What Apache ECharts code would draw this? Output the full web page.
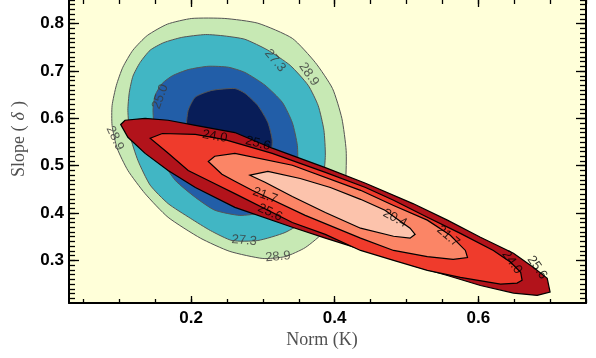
<!DOCTYPE html>
<html><head><meta charset="utf-8">
<script src="https://cdn.jsdelivr.net/npm/echarts@6/dist/echarts.min.js"></script>
<style>html,body{margin:0;padding:0;background:#fff}#c{width:596px;height:358px}</style>
</head><body><div id="c"></div>
<script>
// ---- tick labels ----
const xTickLabels = [0.2, 0.4, 0.6];
const yTickLabels = [0.3, 0.4, 0.5, 0.6, 0.7, 0.8];

// ---- contour polygons (Norm K, Slope delta) ----
// first model (blue): levels 28.9 > 27.3 > 25.0 > core
const blueLevel289 = [[0.090,0.585],[0.090,0.627],[0.096,0.670],[0.105,0.708],[0.119,0.744],[0.139,0.775],[0.167,0.799],[0.201,0.811],[0.247,0.811],[0.293,0.801],[0.341,0.769],[0.373,0.718],[0.397,0.663],[0.410,0.600],[0.416,0.532],[0.415,0.469],[0.405,0.412],[0.387,0.363],[0.359,0.327],[0.331,0.308],[0.300,0.304],[0.254,0.319],[0.213,0.347],[0.168,0.391],[0.136,0.441],[0.112,0.490],[0.097,0.537]];
const blueLevel273 = [[0.112,0.617],[0.114,0.655],[0.119,0.689],[0.129,0.718],[0.143,0.744],[0.162,0.760],[0.187,0.771],[0.220,0.777],[0.247,0.774],[0.275,0.767],[0.307,0.744],[0.338,0.712],[0.363,0.670],[0.377,0.627],[0.385,0.575],[0.387,0.522],[0.384,0.469],[0.377,0.423],[0.359,0.385],[0.331,0.359],[0.293,0.342],[0.257,0.342],[0.227,0.363],[0.199,0.389],[0.168,0.420],[0.143,0.459],[0.126,0.511],[0.115,0.564]];
const blueLevel250 = [[0.147,0.617],[0.150,0.649],[0.160,0.674],[0.174,0.690],[0.196,0.703],[0.224,0.710],[0.252,0.708],[0.275,0.697],[0.303,0.670],[0.327,0.634],[0.341,0.591],[0.348,0.543],[0.348,0.501],[0.338,0.459],[0.321,0.420],[0.299,0.401],[0.268,0.395],[0.233,0.406],[0.206,0.433],[0.178,0.469],[0.160,0.511],[0.150,0.564]];
const blueCore = [[0.193,0.575],[0.196,0.617],[0.206,0.645],[0.229,0.659],[0.261,0.663],[0.275,0.653],[0.293,0.627],[0.307,0.591],[0.313,0.553],[0.310,0.511],[0.296,0.480],[0.268,0.469],[0.233,0.473],[0.210,0.501],[0.196,0.537]];
// second model (red): levels 25.6 > 24.0 > 21.7 > 20.4
const redLevel256 = [[0.102,0.587],[0.108,0.596],[0.136,0.600],[0.168,0.596],[0.206,0.585],[0.261,0.570],[0.313,0.537],[0.387,0.496],[0.443,0.463],[0.509,0.420],[0.557,0.385],[0.603,0.349],[0.649,0.315],[0.677,0.285],[0.696,0.262],[0.700,0.233],[0.682,0.226],[0.649,0.231],[0.603,0.247],[0.557,0.268],[0.509,0.289],[0.463,0.315],[0.429,0.327],[0.387,0.347],[0.341,0.370],[0.261,0.412],[0.206,0.454],[0.168,0.490],[0.136,0.526],[0.112,0.560]];
const redLevel240 = [[0.143,0.558],[0.160,0.568],[0.206,0.566],[0.247,0.555],[0.313,0.526],[0.387,0.486],[0.443,0.454],[0.482,0.427],[0.529,0.391],[0.575,0.357],[0.621,0.321],[0.645,0.296],[0.659,0.275],[0.661,0.258],[0.654,0.252],[0.631,0.250],[0.575,0.264],[0.529,0.279],[0.482,0.300],[0.436,0.321],[0.387,0.355],[0.341,0.380],[0.261,0.441],[0.229,0.465],[0.196,0.490],[0.167,0.528]];
const redLevel217 = [[0.224,0.509],[0.233,0.520],[0.261,0.526],[0.341,0.501],[0.436,0.448],[0.482,0.416],[0.529,0.385],[0.561,0.353],[0.582,0.321],[0.585,0.306],[0.565,0.302],[0.529,0.308],[0.482,0.321],[0.436,0.347],[0.359,0.395],[0.285,0.448],[0.261,0.467],[0.243,0.482]];
const redLevel204 = [[0.282,0.480],[0.307,0.488],[0.352,0.473],[0.394,0.454],[0.436,0.429],[0.470,0.406],[0.505,0.368],[0.512,0.355],[0.505,0.347],[0.482,0.351],[0.436,0.368],[0.387,0.401],[0.341,0.435],[0.303,0.465]];

// ---- contour labels: [x, y, text, family] ----
const contourLabels = [
  [0.094,0.558,'28.9','b'],[0.157,0.646,'25.0','b'],[0.317,0.722,'27.3','b'],[0.364,0.693,'28.9','b'],
  [0.274,0.342,'27.3','b'],[0.321,0.308,'28.9','b'],
  [0.233,0.562,'24.0','r'],[0.293,0.547,'25.6','r'],[0.303,0.437,'21.7','r'],[0.310,0.401,'25.6','r'],
  [0.484,0.389,'20.4','r'],[0.558,0.351,'21.7','r'],[0.647,0.296,'24.0','r'],[0.682,0.285,'25.6','r']
];
const contourLabelAngles = [-65,70,-50,-55,-5,5,-10,-15,-20,-25,-28,-40,-55,-55];

const contours = [
  {pts: blueLevel289, fill:'#c7e9b4', stroke:'#555555', lw:1, smooth:0.2},
  {pts: blueLevel273, fill:'#41b6c4', stroke:'#555555', lw:1, smooth:0.2},
  {pts: blueLevel250, fill:'#225ea8', stroke:'#555555', lw:1, smooth:0.2},
  {pts: blueCore,     fill:'#081d58', stroke:'#555555', lw:1, smooth:0.2},
  {pts: redLevel256,  fill:'#b2131b', stroke:'#000000', lw:1.2, smooth:0},
  {pts: redLevel240,  fill:'#ef3b2c', stroke:'#000000', lw:1.2, smooth:0},
  {pts: redLevel217,  fill:'#fb8566', stroke:'#000000', lw:1.2, smooth:0},
  {pts: redLevel204,  fill:'#fcc3ac', stroke:'#000000', lw:1.2, smooth:0}
];

const xMinor = []; for (let i = 1; i <= 15; i++) xMinor.push(Math.round(i*5)/100);
const yMinor = []; for (let i = 22; i <= 85; i++) yMinor.push(i/100);

const X0 = 0.03, X1 = 0.75, Y0 = 0.21, Y1 = 0.85;
function xa(pos, vals, len, labels, line) {
  return {type:'value', min:X0, max:X1, position:pos,
    axisLine:{show:line, onZero:false, lineStyle:{color:'#000', width:2}},
    axisTick:{show:true, inside:true, length:len, customValues:vals, lineStyle:{color:'#000', width:1.3}},
    axisLabel:{show:labels, customValues:vals, margin:7, color:'#000', fontSize:17, fontWeight:'bold', fontFamily:'Liberation Sans, Arial, sans-serif', formatter:v=>v.toFixed(1)},
    splitLine:{show:false}};
}
function ya(pos, vals, len, labels, line) {
  return {type:'value', min:Y0, max:Y1, position:pos,
    axisLine:{show:line, onZero:false, lineStyle:{color:'#000', width:2}},
    axisTick:{show:true, inside:true, length:len, customValues:vals, lineStyle:{color:'#000', width:1.3}},
    axisLabel:{show:labels, customValues:vals, margin:5, color:'#000', fontSize:17, fontWeight:'bold', fontFamily:'Liberation Sans, Arial, sans-serif', formatter:v=>v.toFixed(1)},
    splitLine:{show:false}};
}

const chart = echarts.init(document.getElementById('c'), null, {renderer:'canvas'});
chart.setOption({
  animation:false,
  backgroundColor:'#ffffff',
  grid:{left:69, top:0, width:517, height:303, show:true, backgroundColor:'#ffffd9', borderWidth:0},
  xAxis:[
    xa('bottom', xTickLabels, 7, true, true),
    xa('bottom', xMinor, 4, false, false),
    xa('top', xTickLabels, 7, false, false),
    xa('top', xMinor, 4, false, false)
  ],
  yAxis:[
    ya('left', yTickLabels, 10, true, true),
    ya('left', yMinor, 6, false, false),
    ya('right', yTickLabels, 10, false, true),
    ya('right', yMinor, 6, false, false)
  ],
  series:[
    {type:'custom', coordinateSystem:'cartesian2d', xAxisIndex:0, yAxisIndex:0, silent:true, clip:true, z:2,
     data: contours.map((c,i)=>[c.pts[0][0], c.pts[0][1], i]),
     encode:{x:0, y:1},
     renderItem:function(params, api){
       const c = contours[api.value(2)];
       return {type:'polygon', shape:{points:c.pts.map(p=>api.coord(p)), smooth:c.smooth},
               style:{fill:c.fill, stroke:c.stroke, lineWidth:c.lw}};
     }},
    {type:'scatter', xAxisIndex:0, yAxisIndex:0, silent:true, z:5, symbolSize:1,
     itemStyle:{color:'rgba(0,0,0,0)'},
     data: contourLabels.map((l,i)=>({value:[l[0], l[1]], name:l[2],
        label:{rotate:contourLabelAngles[i], color: l[3]==='b' ? '#3a3a3a' : '#000000'}})),
     label:{show:true, position:'inside', formatter:p=>p.name, fontSize:13, fontFamily:'Liberation Sans, Arial, sans-serif'}}
  ],
  graphic:[
    {type:'text', x:322, y:340, style:{text:'Norm (K)', font:'18px "Liberation Serif", "DejaVu Serif", serif', fill:'#505050', align:'center', verticalAlign:'middle'}},
    {type:'text', x:19, y:139, rotation:Math.PI/2,
     style:{text:'Slope ({d|δ})', font:'18px "Liberation Serif", "DejaVu Serif", serif', fill:'#505050', align:'center', verticalAlign:'middle',
            rich:{d:{font:'italic 18px "Liberation Serif", "DejaVu Serif", serif', fill:'#505050', padding:[0,5]}}}}
  ]
});
</script></body></html>
